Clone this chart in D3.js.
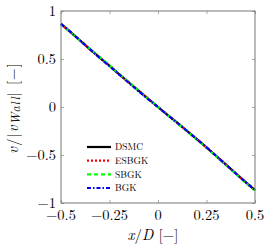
<!DOCTYPE html>
<html>
<head>
<meta charset="utf-8">
<script src="https://cdn.jsdelivr.net/npm/d3@7"></script>
<style>
  body { margin: 0; background: #fff; }
  text { font-family: "Latin Modern Roman", "Liberation Serif", "DejaVu Serif", serif; fill: #000; }
</style>
</head>
<body>
<svg id="chart" width="270" height="250"></svg>
<script>
// data
const xPos = [-0.5, -0.45, -0.4, -0.35, -0.3, -0.25, -0.2, -0.15, -0.1, -0.05, 0,
  0.05, 0.1, 0.15, 0.2, 0.25, 0.3, 0.35, 0.4, 0.45, 0.5]
const dsmc = [0.865, 0.78, 0.69, 0.60, 0.515, 0.43, 0.34, 0.255, 0.17, 0.085, 0,
  -0.085, -0.165, -0.25, -0.335, -0.42, -0.51, -0.60, -0.69, -0.78, -0.865]
const esbgk = [0.865, 0.78, 0.69, 0.60, 0.515, 0.43, 0.34, 0.255, 0.17, 0.085, 0,
  -0.085, -0.165, -0.25, -0.335, -0.42, -0.51, -0.60, -0.69, -0.78, -0.865]
const sbgk = [0.86, 0.775, 0.69, 0.605, 0.52, 0.435, 0.345, 0.26, 0.17, 0.085, 0,
  -0.085, -0.17, -0.255, -0.34, -0.425, -0.515, -0.605, -0.695, -0.785, -0.87]
const bgk = [0.865, 0.78, 0.69, 0.60, 0.51, 0.425, 0.34, 0.25, 0.165, 0.08, 0,
  -0.085, -0.165, -0.25, -0.335, -0.42, -0.51, -0.60, -0.69, -0.78, -0.865]
const seriesNames = ['DSMC', 'ESBGK', 'SBGK', 'BGK']
const xTicks = [-0.5, -0.25, 0, 0.25, 0.5]
const yTicks = [-1, -0.5, 0, 0.5, 1]

const svg = d3.select('#chart')
const plotLeft = 61, plotRight = 255, plotTop = 11, plotBottom = 203

const x = d3.scaleLinear().domain([-0.5, 0.5]).range([plotLeft, plotRight])
const y = d3.scaleLinear().domain([-1, 1]).range([plotBottom, plotTop])

const fmt = d => (d < 0 ? '\u2212' : '') + String(Math.abs(d))

// ticks on all four sides, pointing inward
const tickColor = '#aaa'
const axes = [
  d3.axisBottom(x).tickValues(xTicks).tickSize(-3).tickFormat(''),
  d3.axisTop(x).tickValues(xTicks).tickSize(-3).tickFormat(''),
  d3.axisLeft(y).tickValues(yTicks).tickSize(-3).tickFormat(''),
  d3.axisRight(y).tickValues(yTicks).tickSize(-3).tickFormat('')
]
const shifts = [`translate(0,${plotBottom})`, `translate(0,${plotTop})`,
  `translate(${plotLeft},0)`, `translate(${plotRight},0)`]
axes.forEach((ax, i) => {
  const g = svg.append('g').attr('transform', shifts[i]).call(ax)
  g.select('.domain').remove()
  g.selectAll('.tick line').attr('stroke', tickColor)
})

// tick labels
svg.append('g').selectAll('text').data(xTicks).join('text')
  .attr('x', d => x(d)).attr('y', plotBottom + 17)
  .attr('text-anchor', 'middle').attr('font-size', 14.5)
  .text(fmt)
svg.append('g').selectAll('text').data(yTicks).join('text')
  .attr('x', plotLeft - 5).attr('y', d => y(d) + 5)
  .attr('text-anchor', 'end').attr('font-size', 14.5)
  .text(fmt)

// curves
const line = d3.line().x((d, i) => x(xPos[i])).y(d => y(d))
const styles = [
  { data: dsmc, color: '#000', dash: null },
  { data: esbgk, color: '#f00', dash: '2,2' },
  { data: sbgk, color: '#0f0', dash: '4,3' },
  { data: bgk, color: '#00f', dash: '4,2,1.5,2' }
]
const plot = svg.append('g')
styles.forEach(s => {
  plot.append('path').datum(s.data)
    .attr('d', line)
    .attr('fill', 'none')
    .attr('stroke', s.color)
    .attr('stroke-width', 2.2)
    .attr('stroke-dasharray', s.dash)
})

// frame
svg.append('rect')
  .attr('x', plotLeft).attr('y', plotTop)
  .attr('width', plotRight - plotLeft).attr('height', plotBottom - plotTop)
  .attr('fill', 'none').attr('stroke', '#777').attr('stroke-width', 1)

// legend
const legend = svg.append('g')
const legendY = d3.scalePoint().domain(seriesNames).range([147, 188])
styles.forEach((s, i) => {
  const yy = legendY(seriesNames[i])
  legend.append('line')
    .attr('x1', 87).attr('x2', 111).attr('y1', yy).attr('y2', yy)
    .attr('stroke', s.color).attr('stroke-width', 2.2)
    .attr('stroke-dasharray', s.dash)
  legend.append('text')
    .attr('x', 115).attr('y', yy + 3.2)
    .attr('font-size', 9.5)
    .text(seriesNames[i])
})

// axis titles
const xl = svg.append('text')
  .attr('x', 153).attr('y', 240)
  .attr('text-anchor', 'middle').attr('font-size', 15)
xl.append('tspan').attr('font-style', 'italic').text('x')
xl.append('tspan').text('/')
xl.append('tspan').attr('font-style', 'italic').text('D')
xl.append('tspan').text(' [\u2212]')

const yl = svg.append('text')
  .attr('transform', 'translate(18,108) rotate(-90)')
  .attr('text-anchor', 'middle').attr('font-size', 15)
  .attr('letter-spacing', 1)
yl.append('tspan').attr('font-style', 'italic').text('v')
yl.append('tspan').text('/|')
yl.append('tspan').attr('font-style', 'italic').text('v')
yl.append('tspan').attr('font-style', 'italic').attr('font-size', 12).attr('dy', 1.5).text('Wall')
yl.append('tspan').attr('dy', -1.5).text('| [\u2212]')
</script>
</body>
</html>
